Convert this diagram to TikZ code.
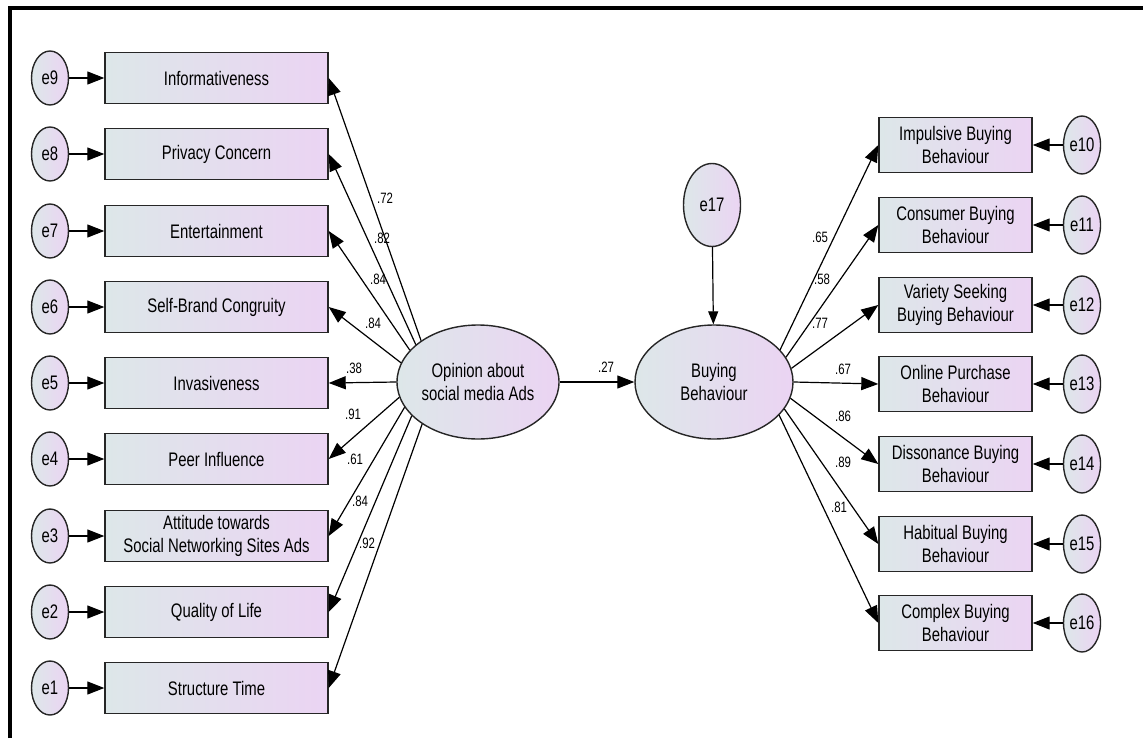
\documentclass[tikz,border=0pt]{standalone}
\usepackage{fontspec}
\setmainfont{Liberation Sans}[FakeStretch=0.76]
\usetikzlibrary{arrows.meta,shapes.geometric}
\definecolor{shadeleft}{RGB}{221,231,233}
\definecolor{shaderight}{RGB}{235,212,243}

\begin{document}
\begin{tikzpicture}[x=0.5pt, y=-0.5pt,
    obs/.style={draw=black!85, line width=0.7pt, left color=shadeleft, right color=shaderight,
        minimum width=111.5pt, minimum height=25.5pt, inner sep=0pt, align=center,
        font=\fontsize{9.8}{11.6}\selectfont},
    obsr/.style={obs, minimum width=76.5pt, minimum height=27.5pt},
    err/.style={ellipse, draw=black!85, line width=0.7pt, left color=shadeleft, right color=shaderight,
        minimum width=18.5pt, minimum height=27pt, inner sep=0pt, font=\fontsize{9.8}{11.6}\selectfont},
    errr/.style={err, minimum height=29pt},
    latent/.style={err, minimum width=81pt, minimum height=57pt, align=center},
    lbl/.style={inner sep=0pt, font=\fontsize{7.5}{8}\selectfont},
    path/.style={-{Triangle[length=8.5pt,width=6.5pt]}, line width=0.6pt}]

    \useasboundingbox (0,0) rectangle (1143,738);
    \draw[line width=2pt] (9.5,738) -- (9.5,8) -- (1143,8);

    % left side: indicators of the opinion factor
    \node[err] (e9) at (50,78) {e9};
    \node[err] (e8) at (50,154) {e8};
    \node[err] (e7) at (50,231) {e7};
    \node[err] (e6) at (50,307) {e6};
    \node[err] (e5) at (50,383) {e5};
    \node[err] (e4) at (50,459) {e4};
    \node[err] (e3) at (50,536) {e3};
    \node[err] (e2) at (50,612) {e2};
    \node[err] (e1) at (50,688) {e1};

    \node[obs] (inf) at (216.5,78) {Informativeness};
    \node[obs] (priv) at (216.5,154) {Privacy Concern};
    \node[obs] (ent) at (216.5,231) {Entertainment};
    \node[obs] (sbc) at (216.5,307) {Self-Brand Congruity};
    \node[obs] (inv) at (216.5,383) {Invasiveness};
    \node[obs] (peer) at (216.5,459) {Peer Influence};
    \node[obs] (att) at (216.5,536) {Attitude towards\\Social Networking Sites Ads};
    \node[obs] (qol) at (216.5,612) {Quality of Life};
    \node[obs] (st) at (216.5,688) {Structure Time};

    \draw[path] (e9) -- (inf);
    \draw[path] (e8) -- (priv);
    \draw[path] (e7) -- (ent);
    \draw[path] (e6) -- (sbc);
    \draw[path] (e5) -- (inv);
    \draw[path] (e4) -- (peer);
    \draw[path] (e3) -- (att);
    \draw[path] (e2) -- (qol);
    \draw[path] (e1) -- (st);

    % the two factors
    \node[latent] (opin) at (478,382) {Opinion about\\social media Ads};
    \node[latent, minimum width=79pt] (buy) at (714,382) {Buying\\Behaviour};
    \node[err, minimum width=28.5pt, minimum height=41.5pt] (e17) at (712,205) {e17};

    \draw[path] (opin.144) -- (inf.east);
    \draw[path] (opin.149) -- (priv.east);
    \draw[path] (opin.155) -- (ent.east);
    \draw[path] (opin.166) -- (sbc.east);
    \draw[path] (opin.180) -- (inv.east);
    \draw[path] (opin.191) -- (peer.east);
    \draw[path] (opin.199) -- (att.east);
    \draw[path] (opin.207) -- (qol.east);
    \draw[path] (opin.217) -- (st.east);

    \draw[path] (opin) -- (buy);
    \draw[-{Triangle[length=6.5pt,width=5pt]}, line width=0.6pt] (e17) -- (buy);

    \node[lbl] (w9) at (385,198) {.72};
    \node[lbl] (w8) at (382,238) {.82};
    \node[lbl] (w7) at (378,279) {.84};
    \node[lbl] (w6) at (373,323) {.84};
    \node[lbl] (w5) at (354,368) {.38};
    \node[lbl] (w4) at (353,414) {.91};
    \node[lbl] (w3) at (355,459) {.61};
    \node[lbl] (w2) at (360,501) {.84};
    \node[lbl] (w1) at (367,543) {.92};
    \node[lbl] (w0) at (606,367) {.27};

    % right side: kinds of buying behaviour
    \node[obsr] (imp) at (955.5,145) {Impulsive Buying\\Behaviour};
    \node[obsr] (cons) at (955.5,225) {Consumer Buying\\Behaviour};
    \node[obsr] (var) at (955.5,305) {Variety Seeking\\Buying Behaviour};
    \node[obsr] (onl) at (955.5,384) {Online Purchase\\Behaviour};
    \node[obsr] (diss) at (955.5,464) {Dissonance Buying\\Behaviour};
    \node[obsr] (hab) at (955.5,544) {Habitual Buying\\Behaviour};
    \node[obsr] (cplx) at (955.5,623) {Complex Buying\\Behaviour};

    \node[errr] (e10) at (1082,145) {e10};
    \node[errr] (e11) at (1082,225) {e11};
    \node[errr] (e12) at (1082,305) {e12};
    \node[errr] (e13) at (1082,384) {e13};
    \node[errr] (e14) at (1082,464) {e14};
    \node[errr] (e15) at (1082,544) {e15};
    \node[errr] (e16) at (1082,623) {e16};

    \draw[path] (e10) -- (imp);
    \draw[path] (e11) -- (cons);
    \draw[path] (e12) -- (var);
    \draw[path] (e13) -- (onl);
    \draw[path] (e14) -- (diss);
    \draw[path] (e15) -- (hab);
    \draw[path] (e16) -- (cplx);

    \draw[path] (buy.26) -- (imp.west);
    \draw[path] (buy.19) -- (cons.west);
    \draw[path] (buy.10) -- (var.west);
    \draw[path] (buy.0) -- (onl.west);
    \draw[path] (buy.-12) -- (diss.west);
    \draw[path] (buy.-21) -- (hab.west);
    \draw[path] (buy.-27) -- (cplx.west);

    \node[lbl] (v1) at (820,237) {.65};
    \node[lbl] (v2) at (822,279) {.58};
    \node[lbl] (v3) at (820,323) {.77};
    \node[lbl] (v4) at (843,369) {.67};
    \node[lbl] (v5) at (843,416) {.86};
    \node[lbl] (v6) at (843,462) {.89};
    \node[lbl] (v7) at (839,507) {.81};
\end{tikzpicture}
\end{document}
